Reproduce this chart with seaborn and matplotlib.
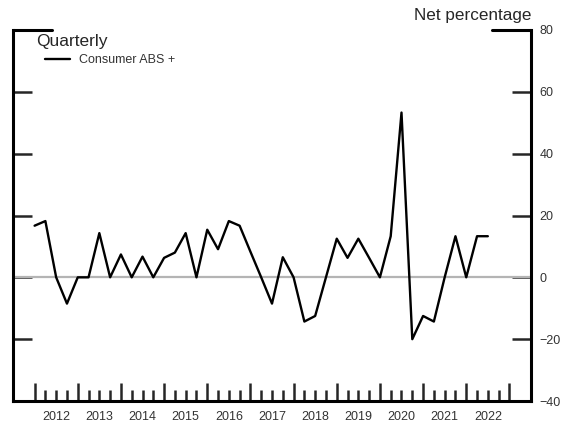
import numpy as np
import pandas as pd
import matplotlib
matplotlib.use('Agg')
import matplotlib.pyplot as plt
import seaborn as sns

# quarterly net percentage, 2012Q1 - 2022Q3
consumer_abs = [16.7, 18.2, 0, -8.5, 0, 0, 14.3, 0, 7.4, 0,
                6.7, 0, 6.3, 8.0, 14.3, 0, 15.4, 9.1, 18.2, 16.7,
                8.3, 0, -8.5, 6.5, 0, -14.3, -12.5, 0, 12.5, 6.3,
                12.5, 6.3, 0, 13.3, 53.3, -20, -12.5, -14.3, 0, 13.3,
                0, 13.3, 13.3]
years = ['2012', '2013', '2014', '2015', '2016', '2017',
         '2018', '2019', '2020', '2021', '2022']
yticks = [-40, -20, 0, 20, 40, 60, 80]

df = pd.DataFrame({'q': np.arange(len(consumer_abs)), 'val': consumer_abs})

sns.set_style('white')
plt.rcParams['font.family'] = ['Liberation Sans', 'DejaVu Sans']

fig = plt.figure(figsize=(5.65, 4.24), dpi=100)
ax = fig.add_axes([13/565, 1 - 401/424, 518/565, 371/424])

ax.axhline(0, color='#b4b4b4', lw=1.6, zorder=1)
sns.lineplot(data=df, x='q', y='val', ax=ax, color='black', lw=1.7,
             label='Consumer ABS +', zorder=3)

ax.set_xlim(-2, 46)
ax.set_ylim(-40, 80)
ax.set_xlabel('')
ax.set_ylabel('')

for s in ['left', 'right', 'bottom']:
    ax.spines[s].set_linewidth(2.2)
    ax.spines[s].set_color('black')
ax.spines['top'].set_visible(False)

# y ticks: both sides inward, labels on the right
ax.set_yticks(yticks)
ax.set_yticklabels([str(v).replace('-', '\u2212') for v in yticks])
ax.tick_params(axis='y', left=True, right=True, labelleft=False, labelright=True,
               direction='in', length=14, width=1.8, pad=6, labelsize=9,
               labelcolor='#333333')
ax.axhline(80, 0, 0.075, color='black', lw=2.2, clip_on=False)
ax.axhline(80, 0.925, 1, color='black', lw=2.2, clip_on=False)

# x ticks: quarters (minor) and year boundaries (major)
n_years = len(years)
ax.set_xticks(np.arange(0, 4 * n_years + 1, 4))
ax.set_xticks([q for q in range(4 * n_years + 1) if q % 4], minor=True)
ax.tick_params(axis='x', which='major', direction='in', length=13, width=1.8,
               bottom=True, labelbottom=False)
ax.tick_params(axis='x', which='minor', direction='in', length=8, width=1.8,
               bottom=True)

sec = ax.secondary_xaxis('bottom')
sec.set_xticks(np.arange(2, 4 * n_years, 4), years)
sec.tick_params(length=0, pad=7, labelsize=9, labelcolor='#333333')
sec.spines['bottom'].set_visible(False)

ax.text(0.044, 0.97, 'Quarterly', transform=ax.transAxes, fontsize=12.5,
        ha='left', va='center')
ax.text(1.0, 1.02, 'Net percentage', transform=ax.transAxes, fontsize=12.3,
        ha='right', va='bottom')

ax.legend(loc='upper left', bbox_to_anchor=(0.062, 0.935), frameon=False,
          borderpad=0, borderaxespad=0, handlelength=2.0, handletextpad=0.75,
          prop={'size': 9}, labelcolor='#333333')

fig.savefig('out.png', dpi=100)
